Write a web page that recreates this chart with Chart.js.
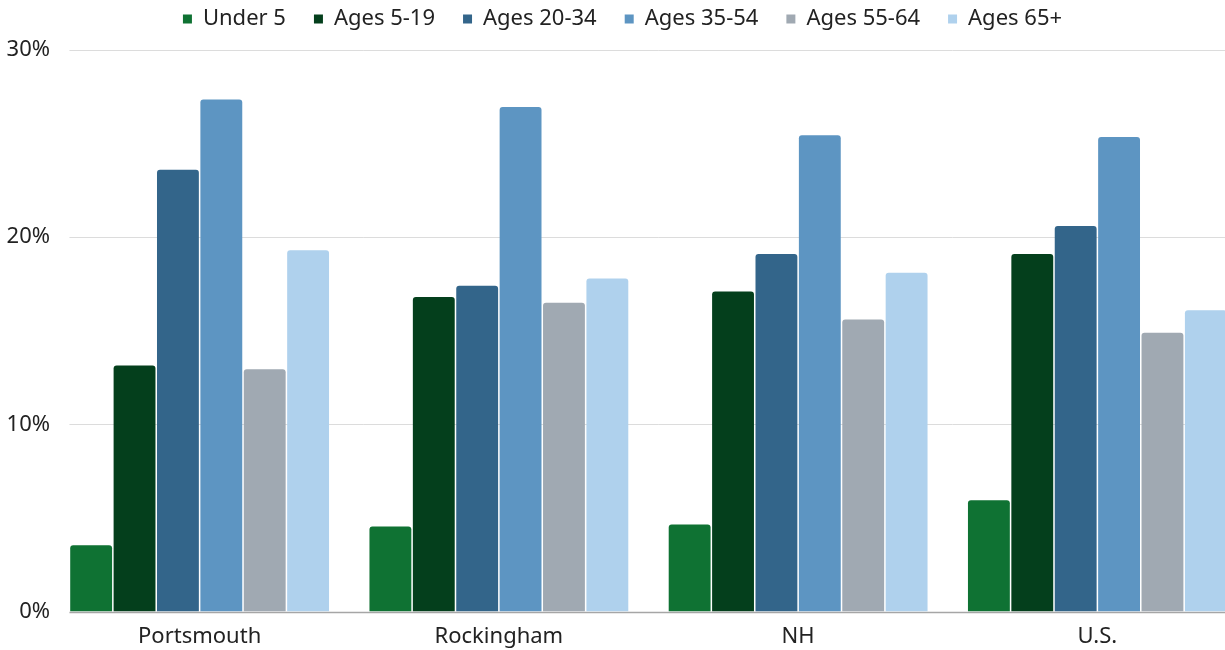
<!DOCTYPE html>
<html>
<head>
<meta charset="utf-8">
<script src="https://cdn.jsdelivr.net/npm/chart.js"></script>
<style>
  html, body { margin: 0; padding: 0; background: #fff; overflow: hidden; }
  #wrap { width: 1247px; height: 650px; }
</style>
</head>
<body>
<div id="wrap"><canvas id="myChart"></canvas></div>
<script>
// Categories and series (percent of population)
const places = ["Portsmouth", "Rockingham", "NH", "U.S."];
const under5 = [3.55, 4.55, 4.65, 5.95];
const ages5to19 = [13.15, 16.8, 17.1, 19.1];
const ages20to34 = [23.6, 17.4, 19.1, 20.6];
const ages35to54 = [27.35, 26.95, 25.45, 25.35];
const ages55to64 = [12.95, 16.5, 15.6, 14.9];
const ages65plus = [19.3, 17.8, 18.1, 16.1];
const yTicks = [0, 10, 20, 30];

const seriesNames = ["Under 5", "Ages 5-19", "Ages 20-34", "Ages 35-54", "Ages 55-64", "Ages 65+"];
const seriesData = [under5, ages5to19, ages20to34, ages35to54, ages55to64, ages65plus];
const seriesColors = ["#0f7233", "#043f1c", "#33658a", "#5d95c2", "#a0a9b2", "#afd1ed"];

const catPct = 0.87;
const font = { family: "Noto Sans", size: 22 };

// horizontal grid starting at the first bar instead of the chart edge
const gridFromBars = {
  id: "gridFromBars",
  beforeDatasetsDraw(chart) {
    const ctx = chart.ctx;
    const x = chart.scales.x;
    const y = chart.scales.y;
    const catWidth = x.width / places.length;
    const left = x.getPixelForValue(0) - (catWidth * catPct) / 2;
    const right = chart.chartArea.right;
    ctx.save();
    yTicks.forEach((t) => {
      const py = Math.round(y.getPixelForValue(t)) + 0.5;
      ctx.strokeStyle = t === 0 ? "#a6a6a6" : "#dcdcdc";
      ctx.lineWidth = t === 0 ? 1.5 : 1;
      ctx.beginPath();
      ctx.moveTo(left, py);
      ctx.lineTo(right, py);
      ctx.stroke();
    });
    ctx.restore();
  },
};

// fix the legend box height so the plot starts where the reference does
const legendHeight = {
  id: "legendHeight",
  beforeInit(chart) {
    const fit = chart.legend.fit;
    chart.legend.fit = function () {
      fit.call(this);
      this.height = 70;
    };
  },
};

const ctx = document.getElementById("myChart").getContext("2d");
new Chart(ctx, {
  type: "bar",
  data: {
    labels: places,
    datasets: seriesNames.map((name, i) => ({
      label: name,
      data: seriesData[i],
      backgroundColor: seriesColors[i],
      borderWidth: 0,
      borderRadius: { topLeft: 3, topRight: 3, bottomLeft: 0, bottomRight: 0 },
      borderSkipped: false,
      barPercentage: 0.965,
      categoryPercentage: catPct,
    })),
  },
  options: {
    responsive: true,
    maintainAspectRatio: false,
    animation: false,
    layout: { padding: { left: -2, right: 0, top: -20, bottom: -12 } },
    plugins: {
      tooltip: { enabled: false },
      legend: {
        position: "top",
        labels: {
          font: font,
          color: "#222",
          boxWidth: 9,
          boxHeight: 9,
          padding: 28,
        },
      },
    },
    scales: {
      x: {
        grid: { display: false, drawTicks: false },
        border: { display: false },
        ticks: { font: font, color: "#222", padding: 12 },
      },
      y: {
        min: 0,
        max: 30,
        afterFit(scale) {
          scale.width = 52;
        },
        afterBuildTicks(scale) {
          scale.ticks = yTicks.map((v) => ({ value: v }));
        },
        grid: { display: false, drawTicks: false },
        border: { display: false },
        ticks: {
          font: font,
          color: "#222",
          padding: 0,
          callback: (v) => v + "%",
        },
      },
    },
  },
  plugins: [gridFromBars, legendHeight],
});
</script>
</body>
</html>
